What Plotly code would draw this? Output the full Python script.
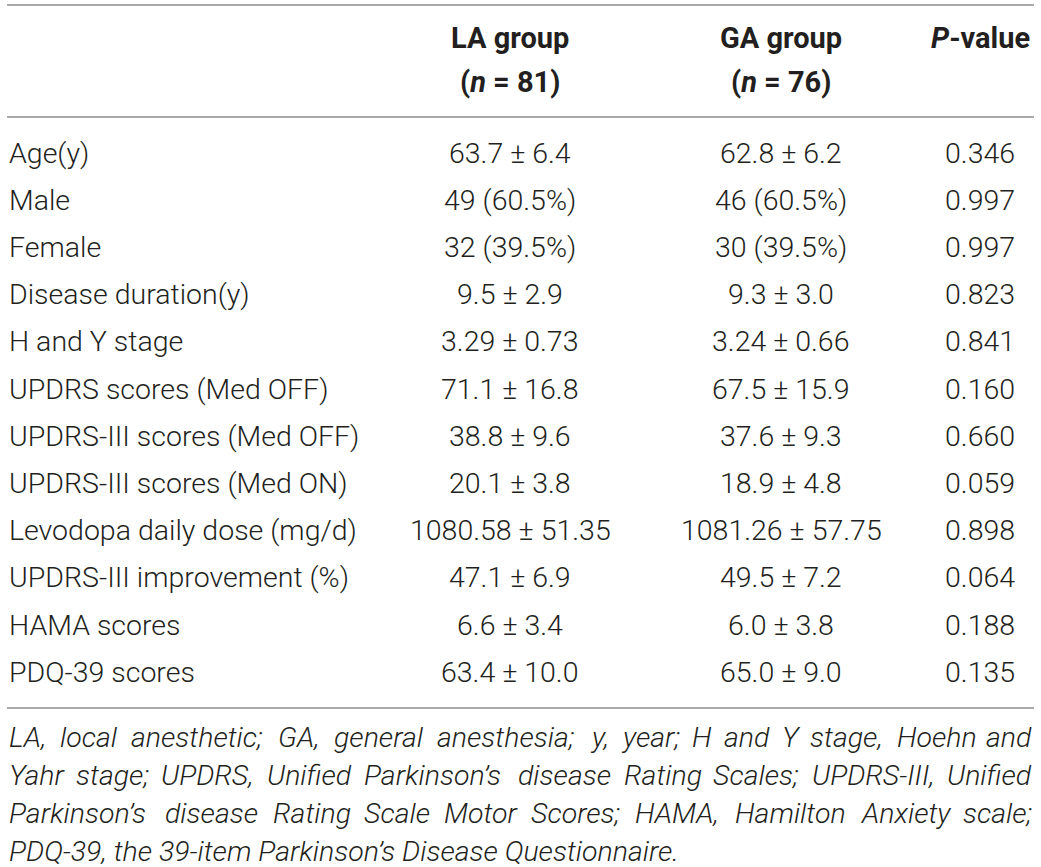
import plotly.graph_objects as go

# table content
row_labels = ["Age(y)", "Male", "Female", "Disease duration(y)", "H and Y stage",
              "UPDRS scores (Med OFF)", "UPDRS-III scores (Med OFF)",
              "UPDRS-III scores (Med ON)", "Levodopa daily dose (mg/d)",
              "UPDRS-III improvement (%)", "HAMA scores", "PDQ-39 scores"]
la_group = ["63.7 ± 6.4", "49 (60.5%)", "32 (39.5%)", "9.5 ± 2.9", "3.29 ± 0.73",
            "71.1 ± 16.8", "38.8 ± 9.6", "20.1 ± 3.8", "1080.58 ± 51.35",
            "47.1 ± 6.9", "6.6 ± 3.4", "63.4 ± 10.0"]
ga_group = ["62.8 ± 6.2", "46 (60.5%)", "30 (39.5%)", "9.3 ± 3.0", "3.24 ± 0.66",
            "67.5 ± 15.9", "37.6 ± 9.3", "18.9 ± 4.8", "1081.26 ± 57.75",
            "49.5 ± 7.2", "6.0 ± 3.8", "65.0 ± 9.0"]
p_values = ["0.346", "0.997", "0.997", "0.823", "0.841", "0.160", "0.660",
            "0.059", "0.898", "0.064", "0.188", "0.135"]
headers = [("<b>LA group</b>", "<b>(<i>n</i> = 81)</b>"),
           ("<b>GA group</b>", "<b>(<i>n</i> = 76)</b>"),
           ("<b><i>P</i>-value</b>", "")]
footnote = ["LA, local anesthetic; GA, general anesthesia; y, year; H and Y stage, Hoehn and",
            "Yahr stage; UPDRS, Unified Parkinson’s disease Rating Scales; UPDRS-III, Unified",
            "Parkinson’s disease Rating Scale Motor Scores; HAMA, Hamilton Anxiety scale;",
            "PDQ-39, the 39-item Parkinson’s Disease Questionnaire."]

FONT = "Roboto"
BODY_SIZE = 28.5
HEAD_SIZE = 29
FOOT_SIZE = 28.5
INK = "#231f20"
RULE = "#8c8c8c"
W, H = 1041, 867
LEFT, RIGHT = 7, 1034
col_x = [510, 781, 980]
row_y0, row_dy = 153, 47.2
foot_y0, foot_dy = 737, 38.3

# approximate Roboto advance widths (per 2048 em) used to spread the footnote words
widths = {" ": 507, ",": 402, ";": 485, ".": 539, "-": 565, "’": 407,
          "(": 700, ")": 712}
widths.update({d: 1152 for d in "0123456789"})
widths.update(dict(zip("ABCDEFGHIJKLMNOPQRSTUVWXYZ",
                       [1336, 1275, 1333, 1343, 1164, 1132, 1395, 1460, 557, 1130, 1284,
                        1101, 1788, 1460, 1408, 1292, 1408, 1261, 1217, 1222, 1328, 1303,
                        1817, 1284, 1230, 1226])))
widths.update(dict(zip("abcdefghijklmnopqrstuvwxyz",
                       [1087, 1120, 1044, 1126, 1058, 696, 1122, 1102, 486, 478, 1013, 486,
                        1751, 1104, 1139, 1120, 1131, 678, 1030, 653, 1102, 968, 1502, 991,
                        947, 991])))


def text_width(s, size=FOOT_SIZE):
    return sum(widths.get(c, 1100) for c in s) * size / 2048


fig = go.Figure()
ann = []


def add(text, x, y, xanchor="center", size=BODY_SIZE, italic=False, weight=300):
    ann.append(dict(text=text, x=x, y=y, xref="x", yref="y", xanchor=xanchor,
                    yanchor="middle", showarrow=False,
                    font=dict(family=FONT, size=size, color=INK, weight=weight,
                              style="italic" if italic else "normal")))


# header
for (top, bottom), x in zip(headers, col_x):
    add(top, x, 38, size=HEAD_SIZE, weight=700)
    if bottom:
        add(bottom, x, 82, size=HEAD_SIZE, weight=700)

# body
for i, lab in enumerate(row_labels):
    y = row_y0 + i * row_dy
    add(lab, LEFT, y, xanchor="left")
    add(la_group[i], col_x[0], y)
    add(ga_group[i], col_x[1], y)
    add(p_values[i], col_x[2], y)

# footnote, justified except the last line
for j, line in enumerate(footnote):
    y = foot_y0 + j * foot_dy
    if j == len(footnote) - 1:
        add(line, LEFT, y, xanchor="left", size=FOOT_SIZE, italic=True)
        continue
    words = line.split(" ")
    total = sum(text_width(w) for w in words)
    gap = (RIGHT - LEFT - total) / (len(words) - 1)
    x = LEFT
    for k, w in enumerate(words):
        if k == len(words) - 1:
            add(w, RIGHT, y, xanchor="right", size=FOOT_SIZE, italic=True)
        else:
            add(w, x, y, xanchor="left", size=FOOT_SIZE, italic=True)
        x += text_width(w) + gap

# horizontal rules
for y in [5, 117, 708]:
    fig.add_shape(type="line", x0=LEFT, x1=RIGHT, y0=y, y1=y, xref="x", yref="y",
                  line=dict(color=RULE, width=1.6))

fig.update_layout(
    width=W, height=H,
    margin=dict(l=0, r=0, t=0, b=0),
    paper_bgcolor="white", plot_bgcolor="white",
    annotations=ann,
    xaxis=dict(range=[0, W], visible=False, fixedrange=True),
    yaxis=dict(range=[H, 0], visible=False, fixedrange=True),
    showlegend=False,
)

fig.write_html("out.html", config={"displayModeBar": False},
               post_script="document.body.style.margin='0';")
